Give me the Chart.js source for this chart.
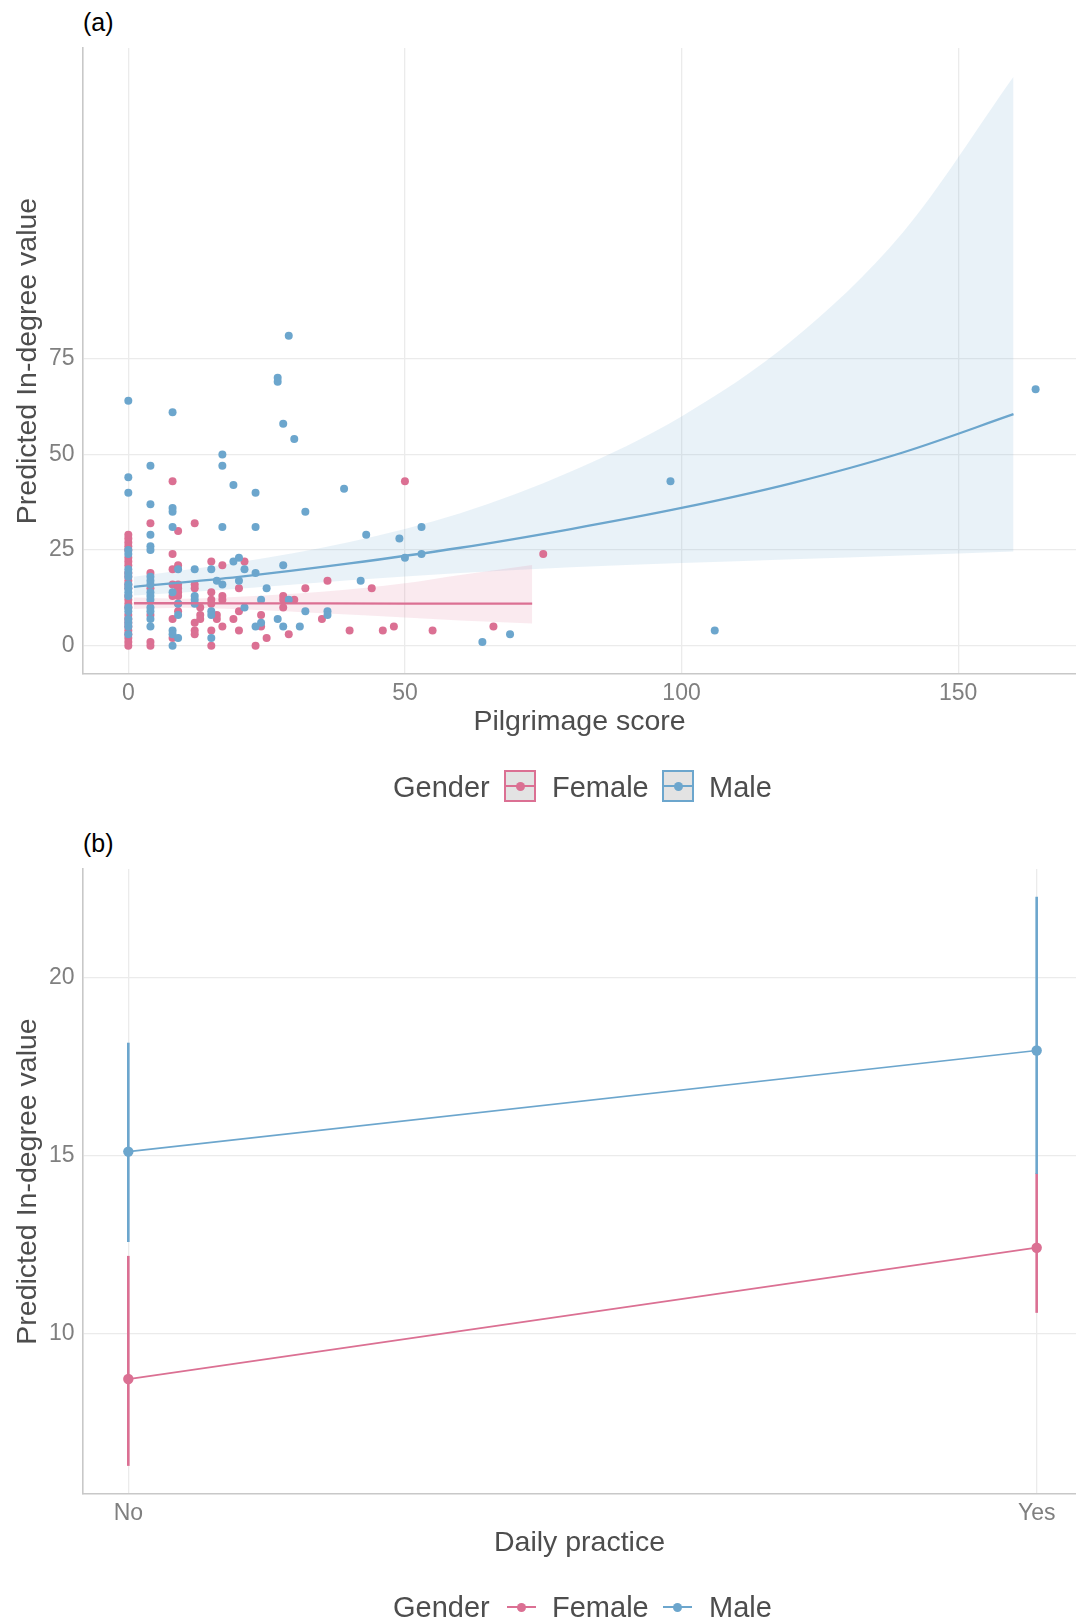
<!DOCTYPE html>
<html>
<head>
<meta charset="utf-8">
<script src="https://cdn.jsdelivr.net/npm/chart.js@4.4.0/dist/chart.umd.min.js"></script>
<style>
  body { margin: 0; background: #fff; font-family: "Liberation Sans", Arial, sans-serif; }
  #page { position: relative; width: 1076px; height: 1622px; overflow: hidden; }
  canvas { position: absolute; left: 0; }
  .tag { position: absolute; left: 83px; font-size: 25px; line-height: 25px; color: #000; }
  .legend { position: absolute; left: 0; width: 1076px; height: 34px; font-size: 29px; line-height: 34px; color: #4d4d4d; z-index: 2; }
  .legend span { position: absolute; top: 0; }
  .box { position: absolute; top: 0; width: 28px; height: 28px; border: 2px solid; background: #e3e3e3; }
  .seg { position: absolute; height: 2px; }
  .dot { position: absolute; width: 9px; height: 9px; border-radius: 50%; }
</style>
</head>
<body>
<div id="page">
  <div class="tag" style="top:10px">(a)</div>
  <canvas id="chartA" width="1076" height="760" style="top:0"></canvas>
  <div class="legend" style="top:770px">
    <span style="left:393px">Gender</span>
    <div class="box" style="left:504px;border-color:#DB7093">
      <div class="seg" style="left:0;top:13px;width:28px;background:#DB7093"></div>
      <div class="dot" style="left:9.5px;top:9.5px;background:#DB7093"></div>
    </div>
    <span style="left:552px">Female</span>
    <div class="box" style="left:662px;border-color:#6CA6CD">
      <div class="seg" style="left:0;top:13px;width:28px;background:#6CA6CD"></div>
      <div class="dot" style="left:9.5px;top:9.5px;background:#6CA6CD"></div>
    </div>
    <span style="left:709px">Male</span>
  </div>

  <div class="tag" style="top:831px">(b)</div>
  <canvas id="chartB" width="1076" height="822" style="top:800px"></canvas>
  <div class="legend" style="top:1590px">
    <span style="left:393px">Gender</span>
    <div class="seg" style="left:507px;top:16px;width:29px;background:#DB7093"></div>
    <div class="dot" style="left:517px;top:12.5px;background:#DB7093"></div>
    <span style="left:552px">Female</span>
    <div class="seg" style="left:663px;top:16px;width:29px;background:#6CA6CD"></div>
    <div class="dot" style="left:673px;top:12.5px;background:#6CA6CD"></div>
    <span style="left:709px">Male</span>
  </div>
</div>

<script>
// ---- panel (a): pilgrimage score vs predicted in-degree ----
const femaleScore = [
  0,0,0,0,0,0,0,0,0,0,0,0,0,0,0,0,0,0,0,0,0,0,0,0,0,0,
  4,4,4,4,4,4,
  8,8,8,8,8,8,8,
  9,9,9,9,9,9,9,9,
  12,12,12,12,12,12,
  13,13,13,
  15,15,15,15,15,15,
  16,16,
  17,17,17,17,
  19, 20,20,20, 21, 23, 24,24, 25,
  28,28,28, 29, 30, 32, 35, 36, 40, 44, 46, 48, 50, 55, 66, 75
];
const femaleInDegree = [
  0,1,2,3,4,5,6,7,8,10,11,12,13,15,16,17,18,19,21,22,23,25,26,27,28,29,
  32,19,15,8,1,0,
  43,24,20,16,13,7,2,
  30,21,16,15,14,13,11,9,
  32,16,15,6,4,3,
  10,8,7,
  22,14,12,11,4,0,
  8,7,
  21,13,12,5,
  7, 15,9,4, 22, 0, 8,5, 2,
  13,12,10, 3, 12, 15, 7, 17, 4, 15, 4, 5, 43, 4, 5, 24
];
const maleScore = [
  0,0,0,0,0,0,0,0,0,0,0,0,0,0,0,0,0,0,
  4,4,4,4,4,4,4,4,4,4,4,4,4,4,4,
  8,8,8,8,8,8,8,8,
  9,9,9,9,
  12,12,12,12,
  15,15,15,15,
  16, 17,17,17,17, 19,19, 20,20, 21,21,
  23,23,23,23, 24,24, 25, 27,27,27, 28,28,28, 29,29, 30, 31, 32,32,
  36,36, 39, 42, 43, 49, 50, 53,53, 64, 69, 98, 106, 164
];
const maleInDegree = [
  64,44,40,25,24,20,19,18,16,15,14,13,10,9,7,6,5,3,
  47,37,29,26,25,18,17,16,14,13,12,10,9,7,5,
  61,36,35,31,14,4,3,0,
  20,11,8,2,
  20,13,12,11,
  20,9,8,2,
  17, 50,47,31,16, 42,22, 23,17, 20,10,
  40,31,19,5, 12,6, 15, 70,69,7, 58,21,5, 81,12, 54, 5, 35,9,
  9,8, 41, 17, 29, 28, 23, 31,24, 1, 3, 43, 4, 67
];

// fitted curves and their confidence bands
const maleFitScore = [1, 20, 40, 60, 80, 100, 120, 140, 160];
const maleFitMean  = [15.4, 18.0, 21.5, 25.6, 30.5, 36.0, 42.5, 50.5, 60.5];
const maleFitUpper = [18.0, 21.8, 27.1, 34.6, 45.5, 59.9, 79.8, 108, 148.7];
const maleFitLower = [13.1, 14.9, 17.1, 19.0, 20.5, 21.6, 22.6, 23.6, 24.6];

const femaleFitScore = [1, 10, 20, 35, 50, 60, 73];
const femaleFitMean  = [11.1, 11.1, 11.05, 11.05, 11.0, 11.0, 11.0];
const femaleFitUpper = [12.6, 12.3, 12.8, 14.1, 16.3, 18.5, 21.1];
const femaleFitLower = [9.6, 9.9, 9.5, 8.5, 7.4, 6.6, 5.8];

const scoreTicks = [0, 50, 100, 150];
const inDegreeTicksA = [0, 25, 50, 75];

// ---- panel (b): daily practice ----
const practiceLabels = ['No', 'Yes'];
const femaleMean = [8.72, 12.41];
const femaleLow  = [6.28, 10.58];
const femaleHigh = [12.18, 14.5];
const maleMean = [15.11, 17.95];
const maleLow  = [12.57, 14.48];
const maleHigh = [18.17, 22.27];
const inDegreeTicksB = [10, 15, 20];

const PINK = '#DB7093';
const BLUE = '#6CA6CD';
const FONT = '"Liberation Sans", Arial, sans-serif';
const GRID = '#ebebeb';

Chart.defaults.font.family = FONT;

const zip = (xs, ys) => xs.map((x, i) => ({ x: x, y: ys[i] }));

function band(xs, ys, color, fill) {
  return {
    type: 'line', data: zip(xs, ys), borderWidth: 0, pointRadius: 0,
    cubicInterpolationMode: 'monotone',
    backgroundColor: color, fill: fill
  };
}

function baseScales(xTicks, yTicks, xmin, xmax, ymin, ymax, xTitle, xHeight, xTitlePad, xLabel) {
  return {
    x: {
      type: 'linear', min: xmin, max: xmax,
      afterBuildTicks: s => { s.ticks = xTicks.map(v => ({ value: v })); },
      afterFit: s => { s.height = xHeight; },
      grid: { color: GRID, lineWidth: 1.3, drawTicks: false },
      border: { display: true, color: '#c8c8c8', width: 1.6 },
      ticks: { padding: 5.4, color: '#7f7f7f', font: { size: 23 }, callback: xLabel || (v => v) },
      title: { display: true, text: xTitle, color: '#4d4d4d', font: { size: 28.5 }, padding: { top: 0, bottom: xTitlePad } }
    },
    y: {
      type: 'linear', min: ymin, max: ymax,
      afterBuildTicks: s => { s.ticks = yTicks.map(v => ({ value: v })); },
      afterFit: s => { s.width = 83; },
      grid: { color: GRID, lineWidth: 1.3, drawTicks: false },
      border: { display: true, color: '#c8c8c8', width: 1.6 },
      ticks: { padding: 8.5, color: '#7f7f7f', font: { size: 23 } },
      title: { display: true, text: 'Predicted In-degree value', color: '#4d4d4d', font: { size: 28.5 }, padding: { top: 11.2, bottom: 0 } }
    }
  };
}

const common = {
  responsive: false, animation: false, devicePixelRatio: 1,
  plugins: { legend: { display: false }, tooltip: { enabled: false } }
};

new Chart(document.getElementById('chartA'), {
  type: 'scatter',
  data: {
    datasets: [
      Object.assign(band(maleFitScore, maleFitUpper, 'rgba(108,166,205,0.15)', '+1'), { order: 8 }),
      Object.assign(band(maleFitScore, maleFitLower, 'transparent', false), { order: 7 }),
      Object.assign(band(femaleFitScore, femaleFitUpper, 'rgba(219,112,147,0.15)', '+1'), { order: 6 }),
      Object.assign(band(femaleFitScore, femaleFitLower, 'transparent', false), { order: 5 }),
      { data: zip(femaleScore, femaleInDegree), pointRadius: 4, pointBorderWidth: 0, backgroundColor: PINK, order: 4 },
      { data: zip(maleScore, maleInDegree), pointRadius: 4, pointBorderWidth: 0, backgroundColor: BLUE, order: 3 },
      { type: 'line', data: zip(femaleFitScore, femaleFitMean), borderColor: PINK, borderWidth: 2.3, pointRadius: 0, fill: false, order: 2 },
      { type: 'line', data: zip(maleFitScore, maleFitMean), borderColor: BLUE, borderWidth: 2.3, pointRadius: 0, fill: false, cubicInterpolationMode: 'monotone', order: 1 }
    ]
  },
  options: Object.assign({}, common, {
    layout: { autoPadding: false, padding: { left: 0, right: 0, top: 48, bottom: 0 } },
    scales: baseScales(scoreTicks, inDegreeTicksA, -8.19, 171.3, -7.39, 156.2, 'Pilgrimage score', 86, 21)
  })
});

function errorBar(i, lows, highs, color, order) {
  return {
    type: 'line', data: [{ x: i, y: lows[i] }, { x: i, y: highs[i] }],
    borderColor: color, borderWidth: 2.6, pointRadius: 0, fill: false, order: order
  };
}

const practiceX = practiceLabels.map((_, i) => i);

new Chart(document.getElementById('chartB'), {
  type: 'scatter',
  data: {
    datasets: [
      errorBar(0, femaleLow, femaleHigh, PINK, 6),
      errorBar(1, femaleLow, femaleHigh, PINK, 6),
      errorBar(0, maleLow, maleHigh, BLUE, 5),
      errorBar(1, maleLow, maleHigh, BLUE, 5),
      { type: 'line', data: zip(practiceX, femaleMean), borderColor: PINK, backgroundColor: PINK, borderWidth: 1.7,
        pointRadius: 5.2, pointBorderWidth: 0, fill: false, order: 2 },
      { type: 'line', data: zip(practiceX, maleMean), borderColor: BLUE, backgroundColor: BLUE, borderWidth: 1.7,
        pointRadius: 5.2, pointBorderWidth: 0, fill: false, order: 1 }
    ]
  },
  options: Object.assign({}, common, {
    layout: { autoPadding: false, padding: { left: 0, right: 0, top: 69, bottom: 0 } },
    scales: baseScales(practiceX, inDegreeTicksB, -0.0499, 1.0433, 5.49, 23.05, 'Daily practice', 128, 61.3,
      v => practiceLabels[v] !== undefined ? practiceLabels[v] : '')
  })
});
</script>
</body>
</html>
